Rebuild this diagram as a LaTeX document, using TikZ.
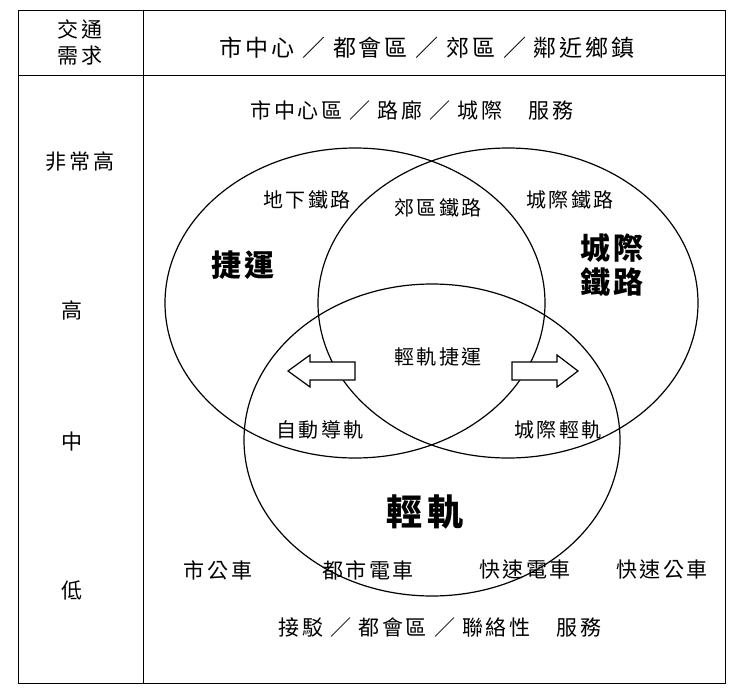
\documentclass[tikz,border=0pt]{standalone}
\usepackage{fontspec}
\setmainfont{Noto Sans CJK TC}[LetterSpace=12]
\begin{document}
\begin{tikzpicture}[x=1pt,y=-1pt,line width=1.2pt,
  t/.style={font=\fontsize{21}{26}\selectfont},
  big/.style={font=\fontsize{30}{34}\selectfont\bfseries},
  arr/.style={draw,fill=white,line width=1.2pt}]
\useasboundingbox (0,0) rectangle (738,690);
\draw[line width=0.8pt] (18,10) rectangle (725,683);
\draw[line width=0.8pt] (143,10) -- (143,683);
\draw[line width=0.8pt] (18,75) -- (725,75);
\node[t,align=center] (h1) at (80,42) {交通\\需求};
\node[t,font=\fontsize{23}{26}\selectfont] (h2) at (427,48) {市中心 ／ 都會區 ／ 郊區 ／ 鄰近鄉鎮};
\node[t] (s1) at (412,110) {市中心區 ／ 路廊 ／ 城際　服務};
\node[t] (l1) at (80,162) {非常高};
\node[t] (l2) at (72,310) {高};
\node[t] (l3) at (72,442) {中};
\node[t] (l4) at (72,590) {低};
\draw (355,303) ellipse [x radius=190, y radius=155];
\draw (508,303) ellipse [x radius=190, y radius=155];
\draw (432,440) ellipse [x radius=188, y radius=156];
\node[t,font=\fontsize{20}{24}\selectfont] (a) at (307,200) {地下鐵路};
\node[t,font=\fontsize{20}{24}\selectfont] (b) at (438,208) {郊區鐵路};
\node[t,font=\fontsize{20}{24}\selectfont] (c) at (570,200) {城際鐵路};
\node[big] (d) at (243,265) {捷運};
\node[big,align=center] (e) at (612,265) {城際\\鐵路};
\node[t,font=\fontsize{20}{24}\selectfont] (f) at (438,357) {輕軌捷運};
\node[t,font=\fontsize{20}{24}\selectfont] (g) at (320,430) {自動導軌};
\node[t,font=\fontsize{20}{24}\selectfont] (h) at (558,430) {城際輕軌};
\node[font=\fontsize{36}{40}\selectfont\bfseries] (i) at (425,512) {輕軌};
\node[t] (j) at (218,570) {市公車};
\node[t] (k) at (368,570) {都市電車};
\node[t] (m) at (525,570) {快速電車};
\node[t] (n) at (662,570) {快速公車};
\node[t] (o) at (440,628) {接駁 ／ 都會區 ／ 聯絡性　服務};
\draw[arr] (355,362) -- (310,362) -- (310,355) -- (288,371) -- (310,387) -- (310,380) -- (355,380) -- cycle;
\draw[arr] (512,362) -- (557,362) -- (557,355) -- (578,371) -- (557,387) -- (557,380) -- (512,380) -- cycle;
\end{tikzpicture}
\end{document}
